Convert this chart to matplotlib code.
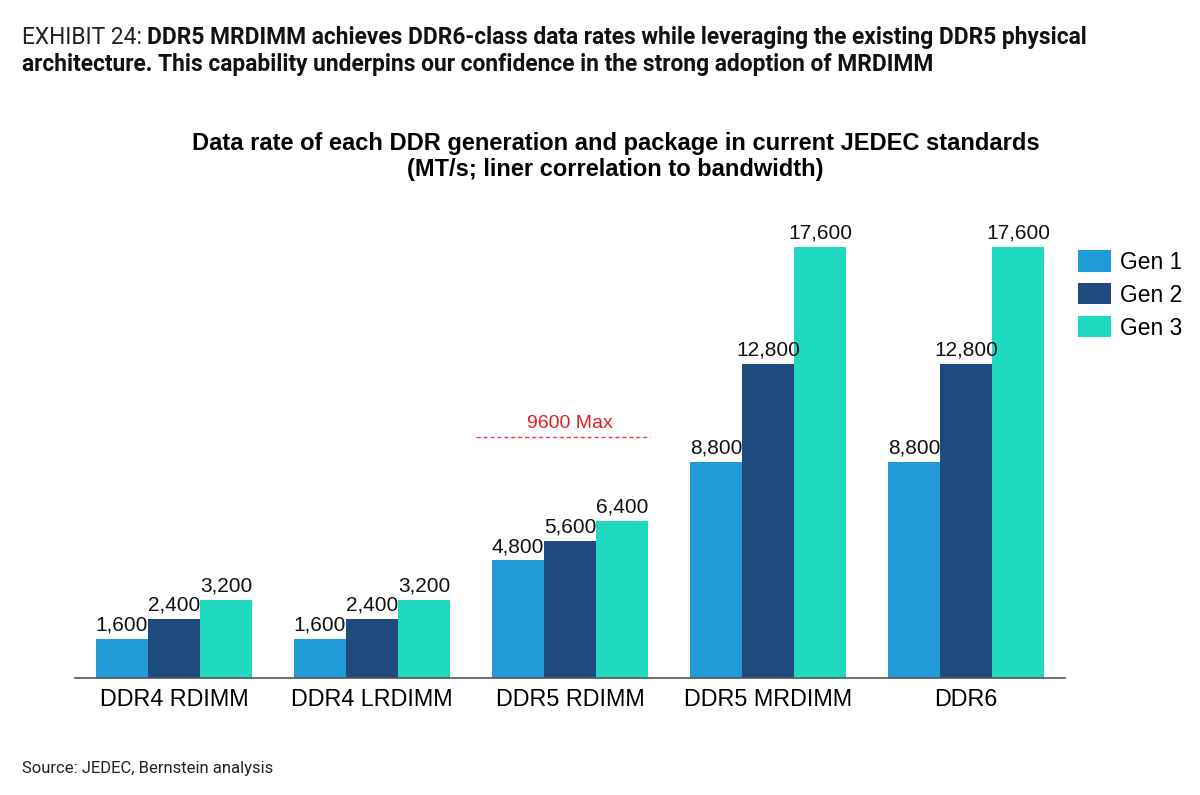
import numpy as np
import matplotlib
matplotlib.use("Agg")
import matplotlib.pyplot as plt
from matplotlib import font_manager

# ─── Data ──────────────────────────────────────────────
categories = ["DDR4 RDIMM", "DDR4 LRDIMM", "DDR5 RDIMM", "DDR5 MRDIMM", "DDR6"]
series_names = ["Gen 1", "Gen 2", "Gen 3"]
gen1 = [1600, 1600, 4800, 8800, 8800]
gen2 = [2400, 2400, 5600, 12800, 12800]
gen3 = [3200, 3200, 6400, 17600, 17600]
ddr5_max = 9600

colors = ["#219bd8", "#1f4a7d", "#1fd9c1"]

installed = {f.name for f in font_manager.fontManager.ttflist}
narrow = "Liberation Sans Narrow" if "Liberation Sans Narrow" in installed else "Roboto"
plt.rcParams["font.family"] = ["Liberation Sans", "DejaVu Sans"]

fig = plt.figure(figsize=(12, 7.95), dpi=100)
ax = fig.add_axes([0.0625, 0.147, 0.825, 0.586])

x = np.arange(len(categories))
w = 0.263
for i, (vals, name) in enumerate(zip([gen1, gen2, gen3], series_names)):
    pos = x + (i - 1) * w
    ax.bar(pos, vals, width=w, color=colors[i], label=name)
    for xp, v in zip(pos, vals):
        ax.text(xp, v + 180, f"{v:,}", ha="center", va="bottom",
                fontsize=15, color="#111111")

# DDR5 physical max line over the DDR5 RDIMM group
g = categories.index("DDR5 RDIMM")
ax.plot([g - 1.5 * w - 0.08, g + 1.5 * w + 0.01], [ddr5_max + 250] * 2,
        ls=(0, (3, 2)), color="#e8404a", lw=1)
ax.text(g + 0.0, ddr5_max + 420, "9600 Max", ha="center", va="bottom",
        fontsize=14, color="#e01e28")

ax.set_xlim(-0.5, 4.5)
ax.set_ylim(0, 19000)
ax.set_xticks(x)
ax.set_xticklabels(categories, fontsize=16.8)
ax.tick_params(axis="x", length=0, pad=7)
ax.set_yticks([])
for s in ["top", "right", "left"]:
    ax.spines[s].set_visible(False)
ax.spines["bottom"].set_color("#555555")
ax.spines["bottom"].set_linewidth(1.2)

fig.legend(loc="upper left", bbox_to_anchor=(0.898, 0.685), frameon=False,
           fontsize=16.4, handlelength=1.45, handleheight=1.05,
           labelspacing=0.42, handletextpad=0.4, borderpad=0, borderaxespad=0)

# chart title
fig.text(0.513, 0.803, "Data rate of each DDR generation and package in current JEDEC standards\n"
         "(MT/s; liner correlation to bandwidth)", ha="center", va="center",
         fontsize=17, fontweight="bold", linespacing=1.15)

# exhibit header
r = fig.canvas.get_renderer()
hdr_font = [narrow, "DejaVu Sans"]
t1 = fig.text(0.018, 0.945, "EXHIBIT 24: ", fontsize=16.4, family=hdr_font,
              color="#222222", va="baseline")
bb = t1.get_window_extent(r)
x2 = bb.x1 / fig.bbox.width
fig.text(x2, 0.945, "DDR5 MRDIMM achieves DDR6-class data rates while leveraging the existing DDR5 physical",
         fontsize=16.4, fontweight="bold", family=hdr_font, color="#111111", va="baseline")
fig.text(0.018, 0.911, "architecture. This capability underpins our confidence in the strong adoption of MRDIMM",
         fontsize=16.4, fontweight="bold", family=hdr_font, color="#111111", va="baseline")

fig.text(0.018, 0.028, "Source: JEDEC, Bernstein analysis", fontsize=12, color="#222222",
         family=["Roboto", "DejaVu Sans"])

fig.savefig("out.png", dpi=100)
